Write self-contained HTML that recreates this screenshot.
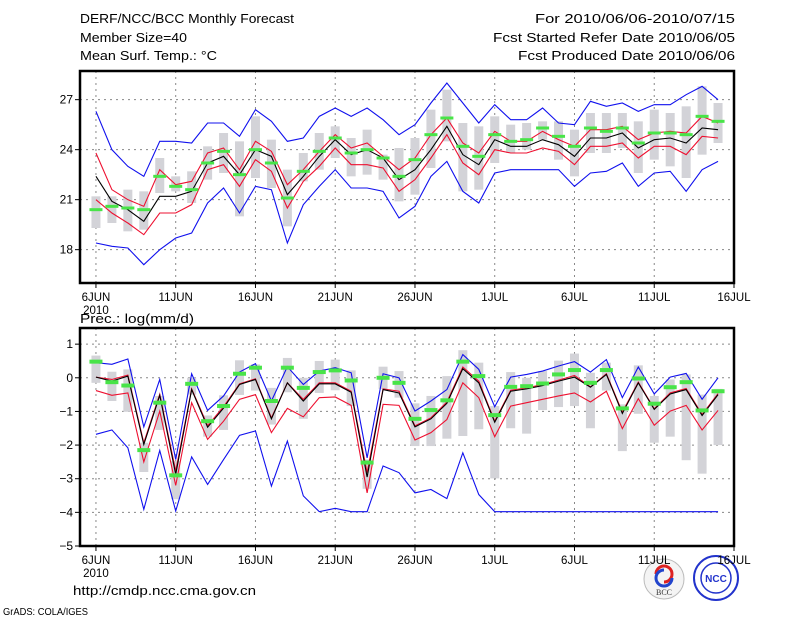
<!DOCTYPE html>
<html><head><meta charset="utf-8"><style>
html,body{margin:0;padding:0;background:#fff;}
svg{display:block;font-family:"Liberation Sans",sans-serif;}
</style></head><body>
<svg id="chart" width="800" height="618" viewBox="0 0 800 618" xmlns="http://www.w3.org/2000/svg">
<rect width="800" height="618" fill="#fff"/>
<g font-size="13" fill="#000">
<text x="80" y="23" textLength="214" lengthAdjust="spacingAndGlyphs">DERF/NCC/BCC Monthly Forecast</text>
<text x="80" y="42" textLength="107" lengthAdjust="spacingAndGlyphs">Member Size=40</text>
<text x="80" y="60" textLength="137" lengthAdjust="spacingAndGlyphs">Mean Surf. Temp.: °C</text>
<text x="735" y="23" text-anchor="end" textLength="200" lengthAdjust="spacingAndGlyphs">For 2010/06/06-2010/07/15</text>
<text x="735" y="42" text-anchor="end" textLength="242" lengthAdjust="spacingAndGlyphs">Fcst Started Refer Date 2010/06/05</text>
<text x="735" y="60" text-anchor="end" textLength="217" lengthAdjust="spacingAndGlyphs">Fcst Produced Date 2010/06/06</text>
<text x="80" y="323" textLength="114" lengthAdjust="spacingAndGlyphs">Prec.: log(mm/d)</text>
<text x="73" y="595" textLength="183" lengthAdjust="spacingAndGlyphs">http://cmdp.ncc.cma.gov.cn</text>
<text x="3" y="615" font-size="10" textLength="85" lengthAdjust="spacingAndGlyphs">GrADS: COLA/IGES</text>
</g>
<g>
<circle cx="664" cy="579" r="20" fill="#f4f4f4" stroke="#bbb"/>
<path d="M656 574 a8 8 0 1 1 8 8" fill="none" stroke="#d22" stroke-width="3"/>
<path d="M672 578 a8 8 0 1 1 -8 -8" fill="none" stroke="#24c" stroke-width="3"/>
<text x="664" y="595" font-size="8" text-anchor="middle" font-family="Liberation Serif,serif" fill="#333">BCC</text>
</g>
<g>
<circle cx="716" cy="578" r="22" fill="#fff" stroke="#23c" stroke-width="2"/>
<circle cx="716" cy="578" r="15" fill="none" stroke="#23c" stroke-width="1.5"/>
<text x="716" y="582" font-size="10" font-weight="bold" text-anchor="middle" fill="#23c">NCC</text>
</g>
<g id="top"></g>
<g id="bot"></g>
</svg>
<script>
const tMax=[26.3,24,23,22.4,24.5,24.5,24.4,25.6,25.6,24.8,26.4,25.7,24.5,24.7,26,26.5,26,26.5,25.8,24.9,25.5,26.8,28,26.8,25.6,26.7,25.8,25.8,26.5,25.6,25.5,26.9,26.6,26.8,26.3,26.7,26.7,27.3,27.8,27];
const tMin=[18.4,18.2,18.1,17.1,18,18.7,19,20.8,21.7,20.2,21.8,21.6,18.4,20.7,21.8,22.8,21.7,21.7,21.5,19.9,20.6,22.4,23.3,21.5,20.8,22.6,22.8,22.8,22.8,22.8,21.8,22.6,22.7,23.2,21.8,22.6,22.7,21.5,22.8,23.3];
const tUp=[23.8,21.6,21,20.6,22.8,21.9,22.1,23.8,24.1,22.8,24.5,23.9,21.9,22.8,23.9,24.9,24.1,24.4,23.6,22.8,23.5,24.9,25.9,24.4,23.8,25.1,24.5,24.5,25.1,24.6,24.2,25.2,25.2,25.4,24.6,25,25.1,25,26,25.6];
const tLo=[21,20.2,19.6,18.9,20.2,20.2,20.7,22.8,23.1,21.8,23.4,22.7,20.5,22.1,23,24.1,23.1,23.1,22.9,21.5,22.2,23.5,24.9,23.2,22.5,24,23.8,23.8,24.1,23.9,23.1,24.2,24.2,24.4,23.5,24.2,24.2,23.7,24.8,24.7];
const tMean=[22.4,20.9,20.4,19.7,21.2,21.2,21.5,23.2,23.6,22.5,24,23.6,21.3,22.4,23.6,24.6,23.7,24,23.5,22.2,22.8,24,25.4,23.7,23.1,24.6,24.2,24.2,24.6,24.3,23.6,24.7,24.7,25,24.1,24.6,24.7,24.4,25.3,25.2];
const tObs=[20.4,20.6,20.5,20.4,22.4,21.8,21.6,23.2,23.9,22.5,24,23.2,21.1,22.7,23.9,24.7,23.8,24,23.5,22.4,23.4,24.9,25.9,24.2,23.6,24.9,24.5,24.6,25.3,24.8,24.2,25.3,25.1,25.3,24.4,25,25,24.9,26,25.7];
const tBoxHi=[21.2,21.2,21.6,21.5,23.5,22.4,22.7,24.2,25,24.5,26,24.6,22.8,23.8,25,25.4,24.7,25.2,23.7,24.1,24.7,26.4,27.6,25.6,25.4,26,25.5,25.6,25.7,25.7,25.2,26.2,26.2,26.2,25.7,26.4,26.2,26.6,27.8,26.8];
const tBoxLo=[19.3,19.6,19.1,19.2,21.4,21.5,20.8,22.2,22.6,20,22.3,21.7,19.4,22.1,22.8,23.5,22.4,22.5,22.2,20.9,21.3,22.9,24.5,21.5,21.6,23.2,23.8,24,24.6,23.4,22.4,23.8,23.8,24.1,22.6,23.4,23,22.3,23.7,24.4];
const pMax=[0.45,0.4,0.56,-1.46,-0.05,-2.43,0.12,-0.97,-0.54,0.17,0.42,-0.69,0.33,-0.2,0.2,0.3,0.15,-2.38,0.12,0,-0.99,-0.69,-0.35,0.69,0.25,-0.86,0.02,0.1,0.2,0.35,0.48,0.17,0.54,-0.59,0.32,-0.48,0.02,0.13,-0.64,0];
const pMin=[-1.68,-1.55,-2.08,-3.91,-2.16,-3.96,-2.35,-3.17,-2.43,-1.71,-1.58,-3.22,-1.88,-3.51,-3.98,-3.88,-3.98,-3.98,-2.62,-2.82,-3.42,-3.32,-3.59,-2.23,-3.47,-3.98,-3.98,-3.98,-3.98,-3.98,-3.98,-3.98,-3.98,-3.98,-3.98,-3.98,-3.98,-3.98,-3.98,-3.98];
const pMean=[0.02,-0.1,0.05,-1.98,-0.52,-2.87,-0.35,-1.47,-0.9,-0.2,-0.05,-1.22,-0.15,-0.69,-0.18,-0.18,-0.43,-2.95,-0.35,-0.45,-1.46,-1.22,-0.76,0.27,-0.15,-1.32,-0.4,-0.33,-0.23,-0.1,0.02,-0.28,0.1,-1.06,-0.15,-0.94,-0.48,-0.35,-1.12,-0.5];
const pUp=[0.02,-0.05,0.08,-1.93,-0.49,-2.77,-0.33,-1.42,-0.86,-0.18,-0.03,-1.19,-0.15,-0.64,-0.15,-0.15,-0.4,-2.82,-0.33,-0.4,-1.43,-1.19,-0.72,0.32,-0.1,-1.29,-0.37,-0.3,-0.2,-0.07,0.07,-0.27,0.12,-1.02,-0.13,-0.92,-0.45,-0.32,-1.09,-0.47];
const pLo=[-0.38,-0.52,-0.45,-2.5,-0.99,-3.2,-0.74,-1.83,-1.29,-0.64,-0.5,-1.63,-0.91,-1.16,-0.59,-0.57,-0.82,-3.42,-0.79,-0.82,-1.85,-1.63,-1.24,-0.15,-0.59,-1.75,-0.84,-0.74,-0.64,-0.54,-0.45,-0.72,-0.4,-1.51,-0.62,-1.41,-0.99,-0.82,-1.55,-0.97];
const pObs=[0.48,-0.13,-0.23,-2.15,-0.74,-2.9,-0.18,-1.29,-0.84,0.12,0.3,-0.69,0.3,-0.3,0.17,0.22,-0.08,-2.52,0,-0.15,-1.22,-0.96,-0.67,0.48,0.05,-1.11,-0.27,-0.25,-0.17,0.1,0.23,-0.15,0.23,-0.91,-0.02,-0.77,-0.28,-0.13,-0.97,-0.4];
const pBoxHi=[0.66,0.18,0.25,-1.93,-0.54,-2.48,0,-1.12,-0.52,0.52,0.4,-0.3,0.59,0,0.5,0.54,0.22,-2.43,0.33,0.2,-0.76,-0.54,0.05,0.82,0.45,-0.84,0.17,0,0.2,0.51,0.72,0.15,0.45,-0.79,0.37,-0.54,-0.05,0.1,-0.5,-0.33];
const pBoxLo=[-0.15,-0.69,-1.01,-2.8,-1.55,-3.61,-0.5,-1.75,-1.55,-0.51,-0.38,-1.39,-0.43,-1.22,-0.45,-0.37,-0.84,-3.3,-0.33,-0.59,-2.03,-2.03,-1.81,-1.73,-1.53,-2.99,-1.5,-1.66,-0.96,-0.87,-0.84,-1.5,-0.38,-2.18,-1.07,-1.93,-1.75,-2.45,-2.85,-2.0];
const dateLabels=["6JUN","11JUN","16JUN","21JUN","26JUN","1JUL","6JUL","11JUL","16JUL"];
const tTicks=[18,21,24,27];
const pTicks=[1,0,-1,-2,-3,-4,-5];

const NS="http://www.w3.org/2000/svg";
function mk(parent,tag,attrs){const e=document.createElementNS(NS,tag);for(const k in attrs)e.setAttribute(k,attrs[k]);parent.appendChild(e);return e;}
const X0=80,X1=734;
function xs(d){return X0+(d+1)*(X1-X0)/41;}

function panel(g,name,top,bot,vmin,vmax,ticks,S,boxW,obsH){
  const ys=v=>bot-(v-vmin)/(vmax-vmin)*(bot-top);
  // grid
  for(let i=0;i<dateLabels.length-1;i++){
    const l=mk(g,'line',{x1:xs(i*5),x2:xs(i*5),y1:top,y2:bot,stroke:'#888','stroke-dasharray':'2,4','stroke-width':1});
    
    
  }
  ticks.forEach(t=>{
    if(t>vmin){const l=mk(g,'line',{x1:X0,x2:X1,y1:ys(t),y2:ys(t),stroke:'#888','stroke-dasharray':'2,4','stroke-width':1});
    
    }
    const tk=mk(g,'line',{x1:X0-5,x2:X0,y1:ys(t),y2:ys(t),stroke:'#000','stroke-width':1});
    
    
    const tx=mk(g,'text',{x:X0-7,y:ys(t)+4,'text-anchor':'end','font-size':12});
    tx.textContent=(t<0?'\u2212'+(-t):String(t));
    
    
  });
  // boxes
  for(let i=0;i<S.hi.length;i++){
    const r=mk(g,'rect',{x:xs(i)-boxW/2,y:ys(S.hi[i]),width:boxW,height:Math.max(1,ys(S.lo[i])-ys(S.hi[i])),fill:'#d3d3d8'});
    
    
  }
  const line=(arr,col,nm)=>{
    const p=mk(g,'polyline',{points:arr.map((v,i)=>xs(i)+','+ys(v)).join(' '),fill:'none',stroke:col,'stroke-width':1.1});
    
    
  };
  line(S.max,'#1010ee',name+'-max-line');
  line(S.min,'#1010ee',name+'-min-line');
  line(S.up,'#ee1030',name+'-upper-line');
  line(S.lo2,'#ee1030',name+'-lower-line');
  line(S.mean,'#000',name+'-mean-line');
  for(let i=0;i<S.obs.length;i++){
    const r=mk(g,'rect',{x:xs(i)-6.5,y:ys(S.obs[i])-obsH/2,width:13,height:obsH,fill:'#48e448'});
    
    
  }
  const fr=mk(g,'rect',{x:X0,y:top,width:X1-X0,height:bot-top,fill:'none',stroke:'#000','stroke-width':2.5});
  
  
  dateLabels.forEach((lab,i)=>{
    const x=xs(i*5);
    const tk=mk(g,'line',{x1:x,x2:x,y1:bot,y2:bot+5,stroke:'#000','stroke-width':1});
    
    
    const t=mk(g,'text',{x:x,y:bot+18,'text-anchor':'middle','font-size':11.5});
    t.textContent=lab;
    
    
  });
  const yr=mk(g,'text',{x:xs(0),y:bot+31,'text-anchor':'middle','font-size':11.5});
  yr.textContent='2010';
  
  
}
panel(document.getElementById('top'),'temp',71,283,16,28.72,tTicks,
  {hi:tBoxHi,lo:tBoxLo,max:tMax,min:tMin,up:tUp,lo2:tLo,mean:tMean,obs:tObs},9,3);
panel(document.getElementById('bot'),'precip',328,546,-5,1.48,pTicks,
  {hi:pBoxHi,lo:pBoxLo,max:pMax,min:pMin,up:pUp,lo2:pLo,mean:pMean,obs:pObs},9,4);
</script>
</body></html>
